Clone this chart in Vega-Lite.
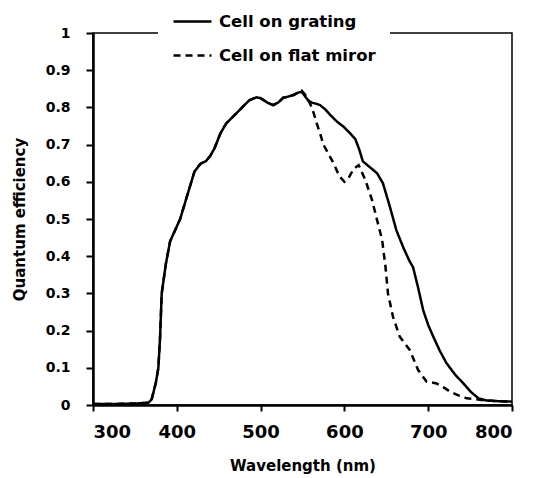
{
  "$schema": "https://vega.github.io/schema/vega-lite/v6.json",
  "autosize": "none",
  "width": 419,
  "height": 372,
  "padding": {"left": 93, "top": 33, "right": 22, "bottom": 73},
  "background": "white",
  "config": {
    "font": "DejaVu Sans",
    "view": {"stroke": "black", "strokeWidth": 1.5},
    "axis": {
      "domainColor": "black",
      "domainWidth": 2.5,
      "tickColor": "black",
      "tickWidth": 2,
      "tickSize": 7,
      "grid": false,
      "labelFont": "DejaVu Sans",
      "labelFontWeight": "bold",
      "labelColor": "black",
      "titleFont": "DejaVu Sans",
      "titleFontWeight": "bold",
      "titleFontSize": 15,
      "titleColor": "black"
    }
  },
  "data": {
    "values": [
      {"wl": 300, "qe": 0.003, "s": "Cell on grating"},
      {"wl": 330, "qe": 0.003, "s": "Cell on grating"},
      {"wl": 350, "qe": 0.004, "s": "Cell on grating"},
      {"wl": 366, "qe": 0.006, "s": "Cell on grating"},
      {"wl": 370, "qe": 0.015, "s": "Cell on grating"},
      {"wl": 375, "qe": 0.06, "s": "Cell on grating"},
      {"wl": 378, "qe": 0.10, "s": "Cell on grating"},
      {"wl": 380, "qe": 0.18, "s": "Cell on grating"},
      {"wl": 382, "qe": 0.30, "s": "Cell on grating"},
      {"wl": 387, "qe": 0.38, "s": "Cell on grating"},
      {"wl": 392, "qe": 0.44, "s": "Cell on grating"},
      {"wl": 398, "qe": 0.47, "s": "Cell on grating"},
      {"wl": 404, "qe": 0.50, "s": "Cell on grating"},
      {"wl": 412, "qe": 0.56, "s": "Cell on grating"},
      {"wl": 421, "qe": 0.627, "s": "Cell on grating"},
      {"wl": 428, "qe": 0.648, "s": "Cell on grating"},
      {"wl": 435, "qe": 0.656, "s": "Cell on grating"},
      {"wl": 440, "qe": 0.67, "s": "Cell on grating"},
      {"wl": 445, "qe": 0.69, "s": "Cell on grating"},
      {"wl": 452, "qe": 0.73, "s": "Cell on grating"},
      {"wl": 459, "qe": 0.757, "s": "Cell on grating"},
      {"wl": 467, "qe": 0.775, "s": "Cell on grating"},
      {"wl": 475, "qe": 0.793, "s": "Cell on grating"},
      {"wl": 481, "qe": 0.807, "s": "Cell on grating"},
      {"wl": 487, "qe": 0.82, "s": "Cell on grating"},
      {"wl": 495, "qe": 0.827, "s": "Cell on grating"},
      {"wl": 500, "qe": 0.825, "s": "Cell on grating"},
      {"wl": 508, "qe": 0.813, "s": "Cell on grating"},
      {"wl": 515, "qe": 0.806, "s": "Cell on grating"},
      {"wl": 521, "qe": 0.813, "s": "Cell on grating"},
      {"wl": 527, "qe": 0.826, "s": "Cell on grating"},
      {"wl": 533, "qe": 0.829, "s": "Cell on grating"},
      {"wl": 540, "qe": 0.834, "s": "Cell on grating"},
      {"wl": 545, "qe": 0.84, "s": "Cell on grating"},
      {"wl": 549, "qe": 0.842, "s": "Cell on grating"},
      {"wl": 553, "qe": 0.83, "s": "Cell on grating"},
      {"wl": 557, "qe": 0.818, "s": "Cell on grating"},
      {"wl": 561, "qe": 0.813, "s": "Cell on grating"},
      {"wl": 566, "qe": 0.81, "s": "Cell on grating"},
      {"wl": 571, "qe": 0.806, "s": "Cell on grating"},
      {"wl": 577, "qe": 0.795, "s": "Cell on grating"},
      {"wl": 583, "qe": 0.78, "s": "Cell on grating"},
      {"wl": 591, "qe": 0.762, "s": "Cell on grating"},
      {"wl": 599, "qe": 0.748, "s": "Cell on grating"},
      {"wl": 607, "qe": 0.73, "s": "Cell on grating"},
      {"wl": 613, "qe": 0.715, "s": "Cell on grating"},
      {"wl": 618, "qe": 0.685, "s": "Cell on grating"},
      {"wl": 622, "qe": 0.655, "s": "Cell on grating"},
      {"wl": 630, "qe": 0.64, "s": "Cell on grating"},
      {"wl": 639, "qe": 0.623, "s": "Cell on grating"},
      {"wl": 646, "qe": 0.596, "s": "Cell on grating"},
      {"wl": 654, "qe": 0.535, "s": "Cell on grating"},
      {"wl": 662, "qe": 0.47, "s": "Cell on grating"},
      {"wl": 670, "qe": 0.425, "s": "Cell on grating"},
      {"wl": 677, "qe": 0.39, "s": "Cell on grating"},
      {"wl": 682, "qe": 0.37, "s": "Cell on grating"},
      {"wl": 688, "qe": 0.315, "s": "Cell on grating"},
      {"wl": 694, "qe": 0.255, "s": "Cell on grating"},
      {"wl": 700, "qe": 0.215, "s": "Cell on grating"},
      {"wl": 706, "qe": 0.184, "s": "Cell on grating"},
      {"wl": 714, "qe": 0.145, "s": "Cell on grating"},
      {"wl": 722, "qe": 0.112, "s": "Cell on grating"},
      {"wl": 732, "qe": 0.082, "s": "Cell on grating"},
      {"wl": 742, "qe": 0.058, "s": "Cell on grating"},
      {"wl": 751, "qe": 0.035, "s": "Cell on grating"},
      {"wl": 760, "qe": 0.018, "s": "Cell on grating"},
      {"wl": 770, "qe": 0.012, "s": "Cell on grating"},
      {"wl": 785, "qe": 0.010, "s": "Cell on grating"},
      {"wl": 800, "qe": 0.009, "s": "Cell on grating"},

      {"wl": 300, "qe": 0.003, "s": "Cell on flat miror"},
      {"wl": 330, "qe": 0.003, "s": "Cell on flat miror"},
      {"wl": 350, "qe": 0.004, "s": "Cell on flat miror"},
      {"wl": 366, "qe": 0.006, "s": "Cell on flat miror"},
      {"wl": 370, "qe": 0.015, "s": "Cell on flat miror"},
      {"wl": 375, "qe": 0.06, "s": "Cell on flat miror"},
      {"wl": 378, "qe": 0.10, "s": "Cell on flat miror"},
      {"wl": 380, "qe": 0.18, "s": "Cell on flat miror"},
      {"wl": 382, "qe": 0.30, "s": "Cell on flat miror"},
      {"wl": 387, "qe": 0.38, "s": "Cell on flat miror"},
      {"wl": 392, "qe": 0.44, "s": "Cell on flat miror"},
      {"wl": 398, "qe": 0.47, "s": "Cell on flat miror"},
      {"wl": 404, "qe": 0.50, "s": "Cell on flat miror"},
      {"wl": 412, "qe": 0.56, "s": "Cell on flat miror"},
      {"wl": 421, "qe": 0.627, "s": "Cell on flat miror"},
      {"wl": 428, "qe": 0.648, "s": "Cell on flat miror"},
      {"wl": 435, "qe": 0.656, "s": "Cell on flat miror"},
      {"wl": 440, "qe": 0.67, "s": "Cell on flat miror"},
      {"wl": 445, "qe": 0.69, "s": "Cell on flat miror"},
      {"wl": 452, "qe": 0.73, "s": "Cell on flat miror"},
      {"wl": 459, "qe": 0.757, "s": "Cell on flat miror"},
      {"wl": 467, "qe": 0.775, "s": "Cell on flat miror"},
      {"wl": 475, "qe": 0.793, "s": "Cell on flat miror"},
      {"wl": 481, "qe": 0.807, "s": "Cell on flat miror"},
      {"wl": 487, "qe": 0.82, "s": "Cell on flat miror"},
      {"wl": 495, "qe": 0.827, "s": "Cell on flat miror"},
      {"wl": 500, "qe": 0.825, "s": "Cell on flat miror"},
      {"wl": 508, "qe": 0.813, "s": "Cell on flat miror"},
      {"wl": 515, "qe": 0.806, "s": "Cell on flat miror"},
      {"wl": 521, "qe": 0.813, "s": "Cell on flat miror"},
      {"wl": 527, "qe": 0.826, "s": "Cell on flat miror"},
      {"wl": 533, "qe": 0.829, "s": "Cell on flat miror"},
      {"wl": 540, "qe": 0.834, "s": "Cell on flat miror"},
      {"wl": 545, "qe": 0.84, "s": "Cell on flat miror"},
      {"wl": 549, "qe": 0.845, "s": "Cell on flat miror"},
      {"wl": 553, "qe": 0.835, "s": "Cell on flat miror"},
      {"wl": 557, "qe": 0.82, "s": "Cell on flat miror"},
      {"wl": 561, "qe": 0.80, "s": "Cell on flat miror"},
      {"wl": 564, "qe": 0.78, "s": "Cell on flat miror"},
      {"wl": 567, "qe": 0.757, "s": "Cell on flat miror"},
      {"wl": 571, "qe": 0.73, "s": "Cell on flat miror"},
      {"wl": 575, "qe": 0.70, "s": "Cell on flat miror"},
      {"wl": 581, "qe": 0.675, "s": "Cell on flat miror"},
      {"wl": 587, "qe": 0.65, "s": "Cell on flat miror"},
      {"wl": 594, "qe": 0.615, "s": "Cell on flat miror"},
      {"wl": 600, "qe": 0.60, "s": "Cell on flat miror"},
      {"wl": 605, "qe": 0.61, "s": "Cell on flat miror"},
      {"wl": 611, "qe": 0.635, "s": "Cell on flat miror"},
      {"wl": 617, "qe": 0.645, "s": "Cell on flat miror"},
      {"wl": 621, "qe": 0.625, "s": "Cell on flat miror"},
      {"wl": 625, "qe": 0.605, "s": "Cell on flat miror"},
      {"wl": 633, "qe": 0.551, "s": "Cell on flat miror"},
      {"wl": 639, "qe": 0.497, "s": "Cell on flat miror"},
      {"wl": 645, "qe": 0.444, "s": "Cell on flat miror"},
      {"wl": 649, "qe": 0.372, "s": "Cell on flat miror"},
      {"wl": 652, "qe": 0.30, "s": "Cell on flat miror"},
      {"wl": 658, "qe": 0.237, "s": "Cell on flat miror"},
      {"wl": 666, "qe": 0.184, "s": "Cell on flat miror"},
      {"wl": 678, "qe": 0.148, "s": "Cell on flat miror"},
      {"wl": 688, "qe": 0.094, "s": "Cell on flat miror"},
      {"wl": 698, "qe": 0.063, "s": "Cell on flat miror"},
      {"wl": 710, "qe": 0.058, "s": "Cell on flat miror"},
      {"wl": 718, "qe": 0.048, "s": "Cell on flat miror"},
      {"wl": 726, "qe": 0.036, "s": "Cell on flat miror"},
      {"wl": 736, "qe": 0.026, "s": "Cell on flat miror"},
      {"wl": 746, "qe": 0.018, "s": "Cell on flat miror"},
      {"wl": 770, "qe": 0.012, "s": "Cell on flat miror"},
      {"wl": 800, "qe": 0.009, "s": "Cell on flat miror"}
    ]
  },
  "mark": {"type": "line", "strokeWidth": 2.5, "color": "black", "clip": true},
  "encoding": {
    "x": {
      "field": "wl", "type": "quantitative",
      "scale": {"domain": [300, 800], "nice": false},
      "axis": {"values": [300, 400, 500, 600, 700, 800], "title": "Wavelength (nm)", "labelFontSize": 18, "labelPadding": 12, "tickSize": 6, "titlePadding": 17}
    },
    "y": {
      "field": "qe", "type": "quantitative",
      "scale": {"domain": [0, 1], "nice": false},
      "axis": {"values": [0, 0.1, 0.2, 0.3, 0.4, 0.5, 0.6, 0.7, 0.8, 0.9, 1], "format": "~g", "title": "Quantum efficiency", "labelFontSize": 14, "labelPadding": 16, "titlePadding": 18}
    },
    "strokeDash": {
      "field": "s", "type": "nominal",
      "scale": {"domain": ["Cell on grating", "Cell on flat miror"], "range": [[1, 0], [7, 5]]},
      "legend": {
        "title": null,
        "orient": "none",
        "legendX": 65,
        "legendY": -46,
        "fillColor": "white",
        "padding": 14,
        "symbolType": "stroke",
        "symbolSize": 1444,
        "symbolStrokeWidth": 2.5,
        "symbolStrokeColor": "black",
        "labelFont": "DejaVu Sans",
        "labelFontWeight": "bold",
        "labelFontSize": 16.5,
        "labelColor": "black",
        "labelOffset": 6,
        "rowPadding": 5
      }
    }
  }
}
